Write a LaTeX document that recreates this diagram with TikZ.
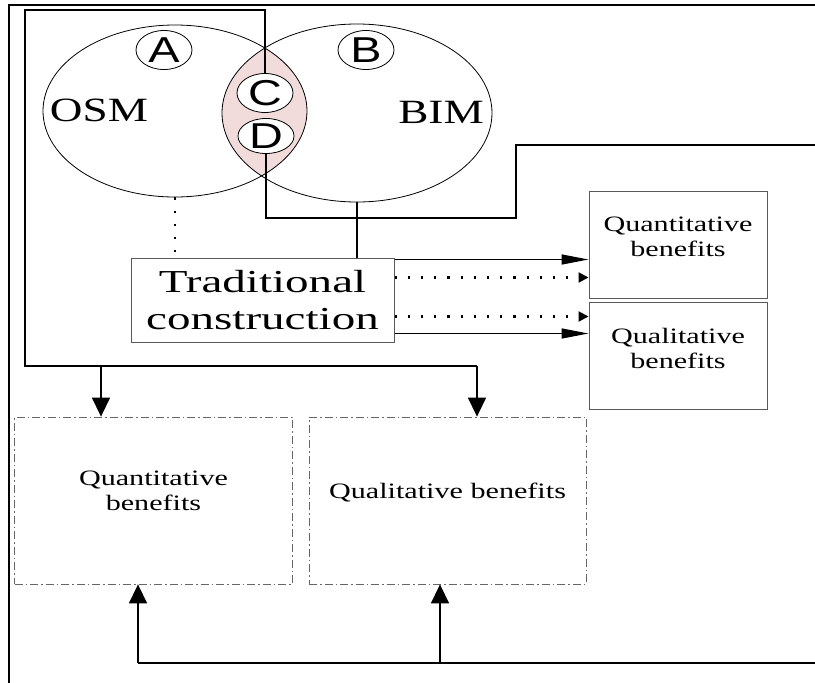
\documentclass[tikz,border=0pt]{standalone}
\usepackage{fontspec}
\setmainfont{Liberation Serif}
\newfontfamily\letterfont[FakeStretch=1.3]{Liberation Sans}
\newfontfamily\vennfont[FakeStretch=1.33]{Liberation Serif}
\newfontfamily\tradfont[FakeStretch=1.47]{Liberation Serif}
\newfontfamily\benefitfont[FakeStretch=1.37]{Liberation Serif}
\usepackage{tikz}
\usetikzlibrary{shapes,arrows,positioning,calc,arrows.meta}
\definecolor{lenspink}{RGB}{242,220,219}
\tikzset{
    conn/.style={line width=1.5pt},
    bigarr/.style={conn, -{Triangle[length=19pt,width=18pt]}},
    sidearr/.style={conn, -{Triangle[length=27pt,width=10pt]}},
    dotline/.style={line width=2.2pt, dash pattern=on 2.2pt off 11pt},
    dotarr/.style={dotline, -{Triangle[length=10pt,width=10pt]}},
    letter/.style={ellipse, draw, fill=white, line width=0.8pt, inner sep=0pt, minimum width=56pt, minimum height=39pt, font=\letterfont\fontsize{36}{40}\selectfont},
    benbox/.style={draw=black!65, line width=1pt, inner sep=0pt},
    dashbox/.style={draw=black!60, line width=0.8pt, dash pattern=on 8pt off 3pt on 1.5pt off 3pt, inner sep=0pt},
    bentext/.style={align=center, font=\benefitfont\fontsize{22}{25}\selectfont}
}
\begin{document}
\begin{tikzpicture}[x=1pt,y=-1pt]
    \useasboundingbox (0,0) rectangle (815,683);
    % Frame
    \draw [line width=2pt] (9,683) -- (9,5) -- (815,5);
    % Lens
    \begin{scope}
        \clip (175,111) ellipse [x radius=132, y radius=86];
        \fill [lenspink] (357,113) ellipse [x radius=135, y radius=89];
    \end{scope}
    % Venn
    \node [ellipse, draw, line width=0.8pt, minimum width=264pt, minimum height=172pt] (osm) at (175,111) {};
    \node [ellipse, draw, line width=0.8pt, minimum width=270pt, minimum height=178pt] (bim) at (357,113) {};
    \node [font=\vennfont\fontsize{34}{38}\selectfont] (osmtxt) at (99,110) {OSM};
    \node [font=\vennfont\fontsize{34}{38}\selectfont] (bimtxt) at (441,112) {BIM};
    \node [letter] (lblA) at (164,50) {A};
    \node [letter] (lblB) at (366,50) {B};
    \node [letter] (lblC) at (265,93) {C};
    \node [letter, minimum height=35pt] (lblD) at (266,136) {D};
    % Boxes
    \node [benbox, minimum width=263pt, minimum height=84pt, align=center,
           font=\tradfont\fontsize{32}{37}\selectfont] (trad) at (262.5,300) {Traditional\\construction};
    \node [benbox, minimum width=178pt, minimum height=107pt] (quanR) at (678,244.5) {};
    \node [benbox, minimum width=178pt, minimum height=107pt] (qualR) at (678,355.5) {};
    \node [bentext] (quanRtxt) at ([yshift=8pt]quanR.center) {Quantitative\\benefits};
    \node [bentext] (qualRtxt) at ([yshift=7pt]qualR.center) {Qualitative\\benefits};
    \node [dashbox, minimum width=278pt, minimum height=167pt] (quanB) at (153.5,500.5) {};
    \node [dashbox, minimum width=277pt, minimum height=167pt] (qualB) at (447.5,500.5) {};
    \node [bentext] (quanBtxt) at ([yshift=10pt]quanB.center) {Quantitative\\benefits};
    \node [bentext] (qualBtxt) at ([yshift=8pt]qualB.center) {Qualitative benefits};
    % Routes
    \coordinate (topL) at (25,10);
    \coordinate (splitL) at (101,366);
    \coordinate (splitR) at (477,366);
    \coordinate (stepD) at (516,218);
    \coordinate (edgeT) at (815,145);
    \coordinate (edgeB) at (815,663);
    \coordinate (botL) at (138,663);
    \coordinate (botM) at (440,663);
    \draw [conn] (lblC.north) |- (topL) |- (splitR);
    \draw [bigarr] (splitL) -- (splitL |- quanB.north);
    \draw [bigarr] (splitR) -- (splitR |- qualB.north);
    \draw [conn] (lblD.south) |- (stepD) |- (edgeT);
    \draw [conn] (bim.south) -- (bim.south |- trad.north);
    \draw [dotline] (osm.south) -- (osm.south |- trad.north);
    \draw [sidearr] ([yshift=-2pt]trad.north east) -- ([yshift=-2pt]trad.north east -| quanR.west);
    \draw [dotarr] ([yshift=-20pt]trad.north east) -- ([yshift=-20pt]trad.north east -| quanR.west);
    \draw [dotarr] ([yshift=26pt]trad.south east) -- ([yshift=26pt]trad.south east -| qualR.west);
    \draw [sidearr] ([yshift=9pt]trad.south east) -- ([yshift=9pt]trad.south east -| qualR.west);
    \draw [conn] (edgeB) -- (botL);
    \draw [bigarr] (botL) -- (botL |- quanB.south);
    \draw [bigarr] (botM) -- (botM |- qualB.south);
\end{tikzpicture}
\end{document}
